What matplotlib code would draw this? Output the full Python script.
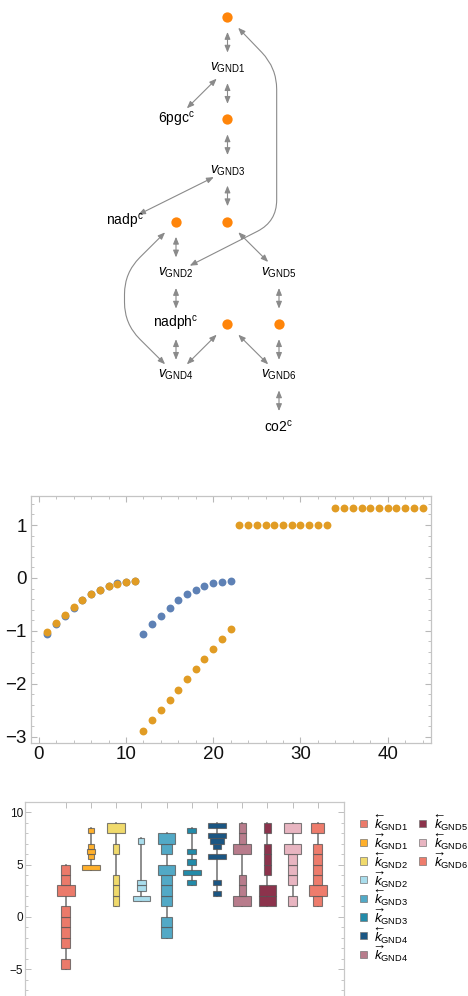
import matplotlib
matplotlib.use("Agg")
import matplotlib.pyplot as plt
import numpy as np
from matplotlib import font_manager
from matplotlib.patches import FancyArrowPatch, Rectangle, ArrowStyle
from matplotlib.path import Path

_names = {f.name for f in font_manager.fontManager.ttflist}
FONT = "Liberation Sans Narrow" if "Liberation Sans Narrow" in _names else "Liberation Sans"
plt.rcParams.update({"font.family": [FONT, "DejaVu Sans"], "mathtext.fontset": "custom",
                     "mathtext.rm": FONT, "mathtext.it": FONT + ":italic",
                     "mathtext.bf": FONT + ":bold"})

# --- reaction network: nodes on a (col, row) grid; "m*" are metabolite dots
NODE_NAMES = ["m1", "GND1", "6pgc", "m2", "GND3", "nadp", "m3", "m4",
              "GND2", "GND5", "nadph", "m5", "m6", "GND4", "GND6", "co2"]
NODE_COL = [2, 2, 1, 2, 2, 0, 1, 2, 1, 3, 1, 2, 3, 1, 3, 3]
NODE_ROW = [0, 1, 2, 2, 3, 4, 4, 4, 5, 5, 6, 6, 6, 7, 7, 8]
EDGES = [("m1", "GND1"), ("GND1", "6pgc"), ("GND1", "m2"), ("m2", "GND3"),
         ("GND3", "nadp"), ("GND3", "m4"), ("m3", "GND2"), ("m4", "GND5"),
         ("GND2", "nadph"), ("GND5", "m6"), ("nadph", "GND4"), ("m5", "GND4"),
         ("m5", "GND6"), ("m6", "GND6"), ("GND6", "co2")]
# long edges routed around the layout through bend points
ROUTED = [("GND2", "m1", [(2.955, 4), (2.955, 1)]),
          ("GND4", "m3", [(0.0, 6), (0.0, 5)])]

# --- flux samples
STEP = np.arange(1, 45)
FLUX_ORANGE = [-1.03, -0.86, -0.70, -0.55, -0.42, -0.31, -0.22, -0.15, -0.11, -0.08, -0.06,
               -2.89, -2.69, -2.50, -2.30, -2.11, -1.91, -1.72, -1.53, -1.34, -1.15, -0.97,
               1.0, 1.0, 1.0, 1.0, 1.0, 1.0, 1.0, 1.0, 1.0, 1.0, 1.0,
               1.32, 1.32, 1.32, 1.32, 1.32, 1.32, 1.32, 1.32, 1.32, 1.32, 1.32]
FLUX_BLUE = [-1.05, -0.87, -0.71, -0.56, -0.42, -0.30, -0.22, -0.15, -0.10, -0.08, -0.05,
             -1.05, -0.87, -0.71, -0.56, -0.42, -0.30, -0.22, -0.15, -0.10, -0.08, -0.05]

# --- rate constant distributions (histogram bins per parameter)
K_LABELS = [r"$\overleftarrow{k}_{\mathrm{GND1}}$", r"$\overrightarrow{k}_{\mathrm{GND1}}$",
            r"$\overleftarrow{k}_{\mathrm{GND2}}$", r"$\overrightarrow{k}_{\mathrm{GND2}}$",
            r"$\overleftarrow{k}_{\mathrm{GND3}}$", r"$\overrightarrow{k}_{\mathrm{GND3}}$",
            r"$\overleftarrow{k}_{\mathrm{GND4}}$", r"$\overrightarrow{k}_{\mathrm{GND4}}$",
            r"$\overleftarrow{k}_{\mathrm{GND5}}$", r"$\overleftarrow{k}_{\mathrm{GND6}}$",
            r"$\overrightarrow{k}_{\mathrm{GND6}}$"]
K_COLORS = ["#EB7A6A", "#FFB02C", "#F0DA6C", "#A9DDEC", "#52A9C6", "#238BA9",
            "#1A5683", "#B87C8C", "#8C334C", "#E8B5C1", "#EE7C6C"]
BIN_WIDTH = [1, 0.5, 1, 0.5, 1, 0.5, 0.5, 1, 1, 1, 1]
BIN_LOWS = [[-5, -3, -2, -1, 0, 2, 3, 4],
            [4.5, 5.5, 6, 6.5, 8],
            [1, 2, 3, 6, 8],
            [1.5, 2.5, 3, 7],
            [-2, -1, 1, 2, 3, 4, 6, 7],
            [3, 4, 5, 6, 8],
            [2, 3, 5.5, 6.5, 7, 7.5, 8.5],
            [1, 2, 3, 6, 7, 8],
            [1, 2, 4, 5, 6, 8],
            [1, 3, 4, 5, 6, 8],
            [1, 2, 3, 4, 5, 6, 8]]
BIN_COUNTS = [[1, 1, 1, 1, 1, 2, 1, 1],
              [6, 2, 3, 2, 2],
              [1, 1, 1, 1, 3],
              [6, 3, 3, 2],
              [3, 3, 3, 3, 3, 5, 3, 5],
              [1, 2, 1, 1, 1],
              [2, 2, 4, 2, 3, 4, 4],
              [5, 2, 2, 5, 2, 2],
              [7, 7, 3, 3, 3, 3],
              [1, 1, 1, 1, 2, 2],
              [2, 4, 2, 2, 2, 2, 3]]

fig = plt.figure(figsize=(4.68, 9.96), dpi=100)

# ---------------- network ----------------
ax = fig.add_axes([0, 0.5, 1, 0.5])
ax.set_xlim(-2.4175, 6.670)
ax.set_ylim(9.400, -0.326)
ax.axis("off")
pos = {n: np.array([c, r], float) for n, c, r in zip(NODE_NAMES, NODE_COL, NODE_ROW)}
GRAY = "#8a8a8a"
style = ArrowStyle("<|-|>", head_length=0.42, head_width=0.17)


def unit(a, b):
    d = np.asarray(b, float) - np.asarray(a, float)
    return d / np.hypot(*d)


for a, b in EDGES:
    ax.add_patch(FancyArrowPatch(pos[a], pos[b], arrowstyle=style, mutation_scale=10,
                                 shrinkA=11, shrinkB=11, color=GRAY, lw=0.8))

for a, b, via in ROUTED:
    pts = [pos[a]] + [np.array(v, float) for v in via] + [pos[b]]
    gap, rad = 0.3, 0.42
    verts = [pts[0] + gap * unit(pts[0], pts[1])]
    codes = [Path.MOVETO]
    for i in range(1, len(pts) - 1):
        k = pts[i]
        verts += [k + rad * unit(k, pts[i - 1]), k, k + rad * unit(k, pts[i + 1])]
        codes += [Path.LINETO, Path.CURVE3, Path.CURVE3]
    verts.append(pts[-1] + gap * unit(pts[-1], pts[-2]))
    codes.append(Path.LINETO)
    ax.add_patch(FancyArrowPatch(path=Path(verts, codes), arrowstyle=style,
                                 mutation_scale=10, color=GRAY, lw=0.8))

for n in NODE_NAMES:
    x, y = pos[n]
    if n.startswith("m"):
        ax.scatter([x], [y], s=55, color="#FF850A", zorder=3, linewidths=0)
    elif n.startswith("GND"):
        ax.text(x, y, r"$v_{\mathrm{%s}}$" % n, ha="center", va="center", fontsize=10)
    else:
        ax.text(x, y, r"$\mathrm{%s}^{\mathrm{c}}$" % n, ha="center", va="center", fontsize=10)

# ---------------- flux scatter ----------------
ax = fig.add_axes([0.0656, 0.2537, 0.8553, 0.2483])
ax.scatter(STEP[:len(FLUX_BLUE)], FLUX_BLUE, s=32, color="#5E81B5", linewidths=0, zorder=2)
ax.scatter(STEP, FLUX_ORANGE, s=32, color="#E19C24", linewidths=0, zorder=3)
ax.set_xlim(-0.92, 44.96)
ax.set_ylim(-3.125, 1.548)
ax.set_xticks(range(0, 41, 10))
ax.set_xticks(np.arange(0, 45, 2), minor=True)
ax.set_yticks([-3, -2, -1, 0, 1])
ax.set_yticks(np.arange(-3, 1.5, 0.2), minor=True)
ax.tick_params(which="both", direction="in", top=True, right=True, color="#b8b8b8",
               labelsize=13.5, labelcolor="#111111")
ax.tick_params(which="major", length=4.5, width=0.8)
ax.tick_params(which="minor", length=2.5, width=0.6)
ax.tick_params(axis="x", pad=2)
ax.tick_params(axis="y", pad=3)
for s in ax.spines.values():
    s.set_color("#c4c4c4")
    s.set_linewidth(0.9)

# ---------------- rate constant distributions ----------------
# frame runs past the bottom edge of the figure
ax = fig.add_axes([25 / 468, -0.0141, 319 / 468, 0.2086])
MAXW = 0.70
for i, (lows, counts, bw, col) in enumerate(zip(BIN_LOWS, BIN_COUNTS, BIN_WIDTH, K_COLORS)):
    xc = i + 1
    top = max(lows) + bw
    ax.plot([xc, xc], [min(lows), top], color="#7a7a7a", lw=1.2, zorder=1)
    cmax = max(counts)
    for lo, c in zip(lows, counts):
        w = MAXW * c / cmax
        ax.add_patch(Rectangle((xc - w / 2, lo), w, bw, facecolor=col,
                               edgecolor=(0.33, 0.33, 0.33, 0.75), lw=0.8, zorder=2))
ax.set_xlim(-0.615, 12.04)
ax.set_ylim(-8.92, 10.96)
ax.set_xticks(range(1, 12))
ax.set_xticklabels([])
ax.set_yticks([-5, 0, 5, 10])
ax.set_yticks(range(-8, 11), minor=True)
ax.tick_params(which="both", direction="in", top=True, right=True, color="#bdbdbd",
               labelsize=8.5, labelcolor="#111111", pad=1.5)
ax.tick_params(which="major", length=4, width=0.7)
ax.tick_params(which="minor", length=2.2, width=0.6)
for s in ax.spines.values():
    s.set_color("#c8c8c8")
    s.set_linewidth(0.9)

# legend, two columns (8 + 3 entries)
lax = fig.add_axes([0, 0, 1, 1])
lax.set_xlim(0, 468)
lax.set_ylim(996, 0)
lax.axis("off")
lax.patch.set_alpha(0)
for i, (lab, col) in enumerate(zip(K_LABELS, K_COLORS)):
    cx = 360 + 59 * (i // 8)
    cy = 823.5 + 18.7 * (i % 8)
    lax.add_patch(Rectangle((cx, cy - 3.6), 7.2, 7.2, facecolor=col,
                            edgecolor=(0.45, 0.45, 0.45, 0.8), lw=0.6))
    lax.text(cx + 14.5, cy, lab, ha="left", va="center", fontsize=9.5)

fig.savefig("out.png", dpi=100)
